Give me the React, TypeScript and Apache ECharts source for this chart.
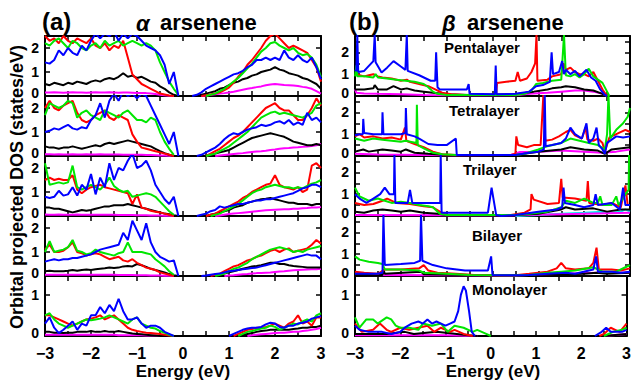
import { useEffect, useRef } from 'react';
import * as echarts from 'echarts';

type Pt = [number, number | null];

// Energy grids for the alpha-arsenene panels (eV)
const eValence = [-3.0,-2.9,-2.8,-2.7,-2.6,-2.5,-2.4,-2.3,-2.2,-2.1,-2.0,-1.9,-1.8,-1.7,-1.6,-1.5,-1.4,-1.3,-1.2,-1.1,-1.0,-0.9,-0.8,-0.7,-0.6,-0.5,-0.4,-0.3,-0.2,-0.1];
const eConduction = [0.2,0.3,0.4,0.5,0.6,0.7,0.8,0.9,1.0,1.1,1.2,1.3,1.4,1.5,1.6,1.7,1.8,1.9,2.0,2.1,2.2,2.3,2.4,2.5,2.6,2.7,2.8,2.9,3.0];

// ---- (a) alpha arsenene, pentalayer (top panel)
const a5RedV = [2.5,2.3,2.4,2.2,2.5,2.3,2.2,2.4,2.3,2.2,2.4,2.1,2.0,2.2,1.9,2.1,2.0,2.3,1.6,0.9,0.7,0.5,0.4,0.3,0.2,0.1,0.06,0.02,0,null];
const a5GreenV = [2.2,2.1,2.3,2.4,2.2,2.0,2.3,2.2,2.0,1.9,2.1,2.2,2.0,2.3,2.1,2.2,2.3,2.1,2.2,2.3,2.2,2.1,2.2,2.1,1.9,1.4,1.0,0.6,0.3,0.05];
const a5BlueV = [1.4,1.35,1.5,1.9,1.7,2.0,1.8,1.7,2.1,1.9,2.3,2.6,2.4,2.6,2.5,2.7,2.3,2.6,2.4,2.6,2.5,2.3,2.1,2.0,1.9,1.7,1.3,0.5,1.0,0];
const a5BlackV = [0.5,0.45,0.55,0.5,0.45,0.55,0.5,0.6,0.55,0.5,0.6,0.65,0.6,0.7,0.75,0.7,0.8,0.95,0.8,0.85,0.75,0.8,0.7,0.6,0.55,0.4,0.3,0.15,0.05,0];
const a5MagentaV = [0.15,0.15,0.16,0.15,0.14,0.15,0.16,0.15,0.15,0.14,0.15,0.16,0.15,0.15,0.16,0.15,0.14,0.15,0.15,0.14,0.13,0.12,0.12,0.1,0.08,0.05,0.03,0.01,0,null];
const a5RedC = [null,null,0,0.03,0.06,0.1,0.15,0.25,0.35,0.55,0.8,1.0,1.3,1.5,1.75,2.0,2.3,2.5,2.6,2.4,2.2,2.0,2.1,2.0,1.9,1.8,1.5,1.2,0.6];
const a5GreenC = [null,null,null,0,0.05,0.1,0.2,0.3,0.45,0.6,0.75,0.95,1.15,1.35,1.6,1.85,2.0,2.2,2.25,2.1,2.0,1.9,2.0,1.8,1.7,1.75,1.6,1.3,0.8];
const a5BlueC = [0,0.05,0.15,0.3,0.4,0.5,0.6,0.7,0.8,0.9,0.95,1.05,1.2,1.3,1.5,1.5,1.6,1.5,1.6,1.5,1.9,1.6,1.5,1.7,1.5,1.4,1.6,1.2,0.7];
const a5BlackC = [null,0,0.05,0.1,0.15,0.2,0.3,0.35,0.45,0.55,0.6,0.7,0.75,0.85,0.9,1.0,1.05,1.1,1.2,1.1,1.05,0.95,0.9,0.85,0.75,0.7,0.6,0.5,0.3];
const a5MagentaC = [null,null,0,0.02,0.05,0.07,0.1,0.12,0.15,0.18,0.22,0.26,0.3,0.33,0.37,0.4,0.45,0.48,0.5,0.48,0.46,0.45,0.44,0.42,0.38,0.35,0.3,0.2,0.1];

// ---- (a) tetralayer
const a4RedV = [2.0,2.3,2.0,1.9,2.1,2.2,2.3,1.8,1.5,1.4,1.5,1.7,1.8,1.9,1.6,1.5,1.7,1.6,1.5,0.9,0.6,0.35,0.3,0.25,0.2,0.15,0.1,0.05,0,null];
const a4GreenV = [1.7,2.2,2.1,2.0,2.1,2.3,2.2,1.6,1.8,1.9,1.7,1.6,1.5,1.9,1.8,1.7,1.6,1.8,1.9,1.7,1.5,1.5,1.4,1.6,1.5,1.0,0.6,0.3,0.05,null];
const a4BlueV = [1.0,1.05,1.15,1.1,1.2,1.3,1.15,1.1,1.2,1.15,1.5,1.7,2.2,1.6,2.3,2.6,2.3,2.7,2.5,2.6,2.4,2.6,2.5,2.1,1.7,1.3,0.9,0.5,1.0,0];
const a4BlackV = [0.4,0.35,0.35,0.3,0.35,0.35,0.4,0.35,0.3,0.35,0.4,0.45,0.4,0.5,0.55,0.5,0.55,0.6,0.65,0.6,0.55,0.5,0.45,0.4,0.3,0.2,0.12,0.05,0,null];
const a4MagentaV = [0.07,0.07,0.06,0.07,0.06,0.06,0.07,0.06,0.06,0.07,0.06,0.06,0.07,0.06,0.06,0.06,0.06,0.05,0.05,0.05,0.05,0.05,0.04,0.04,0.03,0.02,0.02,0.01,0,null];
const a4RedC = [null,null,null,0,0.1,0.2,0.3,0.45,0.6,0.75,0.85,1.0,1.2,1.4,1.6,1.8,2.0,2.1,2.2,2.0,1.9,1.9,1.7,1.5,1.5,1.7,2.0,2.4,2.1];
const a4GreenC = [null,null,null,0,0.05,0.1,0.2,0.3,0.4,0.55,0.7,0.85,1.0,1.2,1.4,1.6,1.7,1.8,1.85,1.75,1.8,1.75,1.7,1.65,1.6,1.7,1.8,2.1,2.2];
const a4BlueC = [null,0,0.05,0.15,0.25,0.35,0.5,0.7,0.85,0.95,0.9,1.0,1.1,1.15,1.2,1.3,1.25,1.3,1.4,1.45,1.35,1.5,1.3,1.4,1.3,1.8,1.5,1.6,1.4];
const a4BlackC = [null,null,null,0,0.05,0.1,0.15,0.2,0.25,0.35,0.45,0.55,0.65,0.75,0.8,0.85,0.9,0.95,0.9,0.85,0.8,0.7,0.6,0.55,0.5,0.45,0.45,0.5,0.45];
const a4MagentaC = [null,null,null,null,null,0,0.02,0.04,0.06,0.08,0.1,0.12,0.15,0.17,0.19,0.2,0.22,0.25,0.27,0.3,0.32,0.33,0.35,0.36,0.38,0.4,0.42,0.45,0.5];

// ---- (a) trilayer
const a3RedV = [1.5,1.6,1.5,1.55,1.5,1.5,1.7,1.1,0.95,1.1,1.2,1.25,1.3,1.2,1.15,1.1,1.05,1.0,0.95,0.5,0.9,0.35,0.3,0.22,0.18,0.15,0.1,0.05,0,null];
const a3GreenV = [2.2,1.3,1.35,1.4,1.35,1.4,2.1,1.2,1.1,1.2,1.3,1.2,1.1,1.3,1.6,1.25,1.1,1.0,1.05,0.8,0.85,0.9,0.95,0.9,0.8,0.6,0.4,0.2,0.05,null];
const a3BlueV = [0.8,0.75,0.8,1.05,0.85,0.9,1.2,0.85,1.3,1.1,1.75,0.9,1.6,1.2,2.2,1.5,2.0,1.9,2.3,2.6,2.0,2.1,2.3,1.9,1.3,1.0,0.7,0.5,0.8,0];
const a3BlackV = [0.35,0.35,0.3,0.3,0.25,0.2,0.15,0.2,0.25,0.22,0.25,0.3,0.35,0.4,0.4,0.45,0.45,0.45,0.5,0.45,0.4,0.35,0.3,0.25,0.2,0.15,0.1,0.07,0.03,0];
const a3MagentaV = [0.06,0.05,0.05,0.06,0.05,0.05,0.05,0.06,0.05,0.05,0.05,0.05,0.05,0.05,0.05,0.05,0.04,0.04,0.04,0.04,0.03,0.03,0.03,0.02,0.02,0.02,0.01,0.01,0,null];
const a3RedC = [null,null,null,0,0.05,0.1,0.2,0.3,0.4,0.5,0.6,0.75,0.85,1.0,1.1,1.2,1.3,1.35,1.7,1.3,1.2,1.15,1.1,1.2,1.0,1.1,2.1,2.2,2.0];
const a3GreenC = [null,null,null,null,0,0.05,0.1,0.2,0.3,0.4,0.5,0.65,0.8,0.95,1.05,1.1,1.2,1.25,1.3,1.25,1.2,1.2,1.15,1.2,1.15,1.25,1.35,1.4,1.5];
const a3BlueC = [null,0,0.05,0.1,0.2,0.25,0.4,0.35,0.4,0.45,0.5,0.5,0.55,0.6,0.65,0.65,0.7,0.7,0.75,0.8,0.85,0.9,0.95,1.05,1.15,1.2,1.3,1.3,1.2];
const a3BlackC = [null,null,null,0,0.05,0.1,0.15,0.2,0.25,0.35,0.4,0.45,0.55,0.6,0.65,0.7,0.72,0.75,0.7,0.65,0.6,0.55,0.55,0.5,0.5,0.5,0.45,0.5,0.5];
const a3MagentaC = [null,null,null,null,null,0,0.02,0.05,0.08,0.1,0.12,0.14,0.16,0.18,0.2,0.22,0.24,0.25,0.26,0.27,0.28,0.28,0.3,0.3,0.32,0.33,0.35,0.35,0.37];

// ---- (a) bilayer
const a2RedV = [1.1,1.3,1.0,1.0,1.05,1.2,1.4,1.0,0.95,0.85,0.9,0.95,0.9,0.8,0.7,0.75,0.8,0.65,0.6,0.7,0.55,0.45,0.35,0.3,0.25,0.15,0.1,0.05,0,null];
const a2GreenV = [1.0,1.45,1.0,1.05,1.1,1.2,1.5,1.05,1.0,0.9,0.95,1.1,1.0,0.95,0.9,0.85,0.95,1.0,1.4,1.0,1.0,1.0,0.95,0.9,0.7,0.55,0.4,0.2,0.05,null];
const a2BlueV = [0.6,0.65,0.7,0.65,0.7,0.7,0.75,0.75,0.8,0.85,0.9,1.0,1.1,1.15,1.2,1.25,1.3,1.8,1.5,2.3,1.9,1.5,2.2,1.4,1.0,0.8,0.7,0.6,0.65,0];
const a2BlackV = [0.2,0.22,0.2,0.2,0.2,0.22,0.25,0.22,0.25,0.27,0.25,0.28,0.3,0.32,0.35,0.33,0.35,0.4,0.42,0.4,0.5,0.45,0.38,0.3,0.25,0.2,0.15,0.08,0.03,0];
const a2MagentaV = [0.05,0.05,0.05,0.05,0.05,0.05,0.05,0.05,0.05,0.05,0.05,0.05,0.05,0.05,0.05,0.05,0.04,0.04,0.04,0.04,0.03,0.03,0.03,0.02,0.02,0.02,0.01,0.01,0,null];
const a2RedC = [null,null,null,null,0,0.05,0.1,0.2,0.3,0.4,0.45,0.55,0.65,0.7,0.8,0.85,0.95,1.05,1.1,1.0,1.1,1.15,1.0,1.05,1.1,1.15,1.3,1.5,1.35];
const a2GreenC = [null,null,null,null,null,0,0.05,0.1,0.2,0.3,0.35,0.45,0.55,0.7,0.8,0.9,1.0,1.1,1.15,1.2,1.15,1.1,1.0,1.05,1.0,1.1,1.15,1.2,1.25];
const a2BlueC = [null,null,0,0.02,0.05,0.08,0.1,0.15,0.2,0.22,0.25,0.28,0.3,0.33,0.35,0.4,0.45,0.5,0.55,0.6,0.65,0.7,0.75,0.8,0.85,0.9,0.85,0.85,0.7];
const a2BlackC = [null,null,null,0,0.02,0.05,0.08,0.1,0.15,0.2,0.25,0.3,0.35,0.4,0.42,0.45,0.5,0.55,0.55,0.5,0.5,0.45,0.42,0.4,0.38,0.35,0.35,0.35,0.35];
const a2MagentaC = [null,null,null,null,null,null,null,0,0.02,0.03,0.05,0.07,0.08,0.1,0.12,0.13,0.14,0.15,0.17,0.19,0.2,0.22,0.24,0.25,0.26,0.27,0.28,0.28,0.3];

// ---- (a) monolayer
const a1RedV = [0.5,0.5,0.45,0.4,0.35,0.3,0.25,0.3,0.35,0.4,0.42,0.45,0.5,0.4,0.45,0.5,0.4,0.3,0.2,0.15,0.12,0.1,0.08,0.07,0.06,0.05,0.03,0.01,0,null];
const a1GreenV = [0.5,0.55,0.4,0.3,0.25,0.2,0.25,0.3,0.35,0.4,0.38,0.4,0.42,0.45,0.5,0.45,0.4,0.35,0.3,0.4,0.45,0.3,0.25,0.2,0.18,0.12,0.08,0.03,0,null];
const a1BlueV = [0.3,0.45,0.2,0.07,0.15,0.25,0.35,0.15,0.3,0.25,0.5,0.5,0.7,0.55,0.75,0.6,0.9,0.6,0.4,0.4,0.45,0.3,0.2,0.25,0.25,0.2,0.1,0.05,0,null];
const a1BlackV = [0.1,0.1,0.08,0.08,0.07,0.08,0.08,0.1,0.1,0.1,0.12,0.1,0.1,0.12,0.1,0.1,0.12,0.1,0.08,0.06,0.05,0.04,0.03,0.02,0.01,0,null,null,null,null];
const a1MagentaV = [0.03,0.03,0.03,0.03,0.03,0.03,0.03,0.03,0.03,0.03,0.03,0.03,0.03,0.03,0.03,0.03,0.02,0.02,0.02,0.02,0.02,0.02,0.01,0.01,0.01,0,null,null,null,null];
const a1RedC = [null,null,null,null,null,null,null,null,null,0,0.05,0.1,0.15,0.17,0.2,0.2,0.22,0.25,0.3,0.25,0.2,0.3,0.35,0.5,0.3,0.35,0.25,0.45,0.45];
const a1GreenC = [null,null,null,null,null,null,null,null,null,null,0,0.05,0.1,0.12,0.15,0.18,0.2,0.25,0.22,0.15,0.2,0.25,0.3,0.28,0.35,0.4,0.35,0.5,0.55];
const a1BlueC = [null,null,null,null,null,null,null,null,0,0.05,0.1,0.15,0.18,0.2,0.2,0.22,0.28,0.32,0.3,0.22,0.2,0.25,0.25,0.3,0.32,0.35,0.42,0.45,0.48];
const a1BlackC = [null,null,null,null,null,null,null,null,null,null,0,0.03,0.05,0.07,0.1,0.12,0.13,0.15,0.15,0.15,0.15,0.15,0.17,0.18,0.2,0.2,0.22,0.22,0.25];
const a1MagentaC = [null,null,null,null,null,null,null,null,null,null,null,null,0,0.02,0.03,0.04,0.05,0.06,0.07,0.08,0.08,0.09,0.1,0.1,0.12,0.13,0.15,0.17,0.2];

// ---- (b) beta arsenene, [energy, DOS] points
const b5Red: Pt[] = [[-3,1.0],[-2.9,0.95],[-2.8,0.9],[-2.7,0.95],[-2.6,1.0],[-2.5,0.9],[-2.4,0.85],[-2.2,0.8],[-2.0,0.7],[-1.87,0.75],[-1.8,0.65],[-1.6,0.55],[-1.4,0.45],[-1.25,0.3],[-1.1,0.15],[-0.9,0.08],[-0.6,0.05],[0.0,0.05],[0.08,0.1],[0.1,0.6],[0.3,0.65],[0.5,0.7],[0.55,1.1],[0.6,0.7],[0.75,0.8],[0.85,1.1],[0.93,1.5],[0.96,2.8],[0.98,0.7],[1.2,0.75],[1.3,0.9],[1.5,1.0],[1.55,1.5],[1.6,1.2],[1.7,1.3],[1.8,1.1],[1.9,1.0],[2.0,1.0],[2.1,0.9],[2.2,1.1],[2.3,0.7],[2.4,0.3],[2.5,0]];
const b5Green: Pt[] = [[-3,0.9],[-2.97,1.4],[-2.95,0.9],[-2.8,0.9],[-2.6,0.85],[-2.55,1.0],[-2.5,0.85],[-2.3,0.8],[-2.1,0.75],[-1.9,0.7],[-1.7,0.65],[-1.5,0.55],[-1.4,0.4],[-1.3,0.2],[-1.2,0.1],[-1.0,0.05],[0.5,0.05],[0.7,0.1],[0.85,0.25],[0.95,0.55],[1.1,0.6],[1.3,0.7],[1.5,0.75],[1.56,2.8],[1.6,0.95],[1.7,0.9],[1.8,1.0],[1.9,0.85],[2.0,1.0],[2.1,1.25],[2.2,0.9],[2.3,0.75],[2.4,0.6],[2.5,0.2],[2.55,0]];
const b5Blue: Pt[] = [[-3,1.2],[-2.97,1.15],[-2.95,2.8],[-2.93,1.1],[-2.8,1.15],[-2.6,1.6],[-2.57,2.8],[-2.55,1.55],[-2.42,1.08],[-2.3,1.3],[-2.16,1.6],[-2.0,1.35],[-1.9,1.2],[-1.87,2.8],[-1.85,1.15],[-1.6,0.95],[-1.35,0.7],[-1.25,0.7],[-1.23,2.0],[-1.2,0.4],[-1.15,0.3],[-0.56,0.3],[-0.52,0.55],[-0.5,0.1],[0.05,0.08],[0.07,1.4],[0.09,0.08],[0.5,0.1],[0.8,0.2],[0.95,0.45],[1.1,0.5],[1.25,0.65],[1.29,2.0],[1.32,1.0],[1.45,1.1],[1.52,1.6],[1.56,1.0],[1.6,1.2],[1.7,1.0],[1.8,1.15],[1.9,0.9],[2.05,1.2],[2.15,0.85],[2.25,0.7],[2.35,0.3],[2.45,0.05],[2.5,0]];
const b5Black: Pt[] = [[-3,0.3],[-2.8,0.3],[-2.6,0.35],[-2.57,0.5],[-2.5,0.3],[-2.3,0.3],[-2.16,0.45],[-2.0,0.3],[-1.87,0.35],[-1.7,0.25],[-1.5,0.2],[-1.3,0.15],[-1.0,0.08],[-0.5,0.05],[0.5,0.08],[0.9,0.2],[1.2,0.3],[1.3,0.35],[1.5,0.4],[1.6,0.45],[1.8,0.4],[2.0,0.3],[2.2,0.25],[2.4,0.1],[2.5,0]];
const b5Magenta: Pt[] = [[-3,0.3],[-2.97,0.15],[-2.8,0.12],[-2.5,0.1],[-2.0,0.08],[-1.5,0.05],[-1.0,0.03],[0.5,0.03],[0.8,0.1],[1.2,0.15],[1.5,0.2],[1.8,0.25],[2.0,0.25],[2.2,0.2],[2.4,0.1],[2.5,0]];

const b4Red: Pt[] = [[-3,0.9],[-2.9,1.0],[-2.8,0.85],[-2.6,0.9],[-2.4,0.8],[-2.2,0.85],[-2.0,0.75],[-1.91,1.3],[-1.88,0.7],[-1.7,0.55],[-1.5,0.4],[-1.3,0.2],[-1.1,0.08],[-0.8,0.05],[0.4,0.05],[0.5,0.1],[0.52,0.9],[0.56,0.5],[0.75,0.4],[0.9,0.5],[1.05,0.5],[1.11,2.8],[1.15,0.7],[1.3,0.75],[1.45,0.9],[1.6,1.1],[1.7,1.2],[1.8,0.95],[1.95,0.8],[2.03,1.3],[2.07,0.75],[2.2,0.7],[2.3,0.8],[2.4,0.6],[2.45,0.2],[2.55,0.85],[2.7,1.0],[2.9,1.2],[3.0,1.1]];
const b4Green: Pt[] = [[-3,0.8],[-2.8,0.7],[-2.6,0.8],[-2.4,0.75],[-2.2,0.7],[-2.0,0.65],[-1.9,0.7],[-1.66,0.6],[-1.65,2.35],[-1.63,0.5],[-1.5,0.35],[-1.3,0.15],[-1.1,0.08],[-0.8,0.05],[0.5,0.05],[0.7,0.1],[1.0,0.3],[1.2,0.45],[1.5,0.6],[1.7,0.8],[1.9,0.7],[2.1,0.6],[2.3,0.5],[2.45,0.3],[2.5,1.0],[2.53,2.8],[2.57,0.8],[2.7,1.2],[2.85,1.5],[2.95,1.8],[3.0,2.2]];
const b4Blue: Pt[] = [[-3,0.95],[-2.9,1.0],[-2.83,1.0],[-2.82,1.7],[-2.8,1.05],[-2.6,1.0],[-2.41,1.0],[-2.4,2.0],[-2.38,1.0],[-2.2,1.0],[-2.0,1.0],[-1.9,1.05],[-1.89,2.2],[-1.87,1.0],[-1.7,0.9],[-1.6,0.8],[-1.4,0.55],[-1.2,0.5],[-1.0,0.5],[-0.8,0.8],[-0.78,0.05],[0.5,0.05],[0.8,0.15],[1.0,0.2],[1.12,0.3],[1.14,2.8],[1.16,0.45],[1.3,0.5],[1.5,0.6],[1.6,0.8],[1.7,1.3],[1.8,1.0],[1.95,0.8],[2.05,1.5],[2.1,0.6],[2.2,0.8],[2.27,1.3],[2.32,0.5],[2.4,0.3],[2.45,0.1],[2.5,0.6],[2.7,0.9],[2.85,0.85],[3.0,0.9]];
const b4Black: Pt[] = [[-3,0.2],[-2.82,0.3],[-2.7,0.2],[-2.4,0.3],[-2.2,0.25],[-2.0,0.2],[-1.89,0.3],[-1.7,0.15],[-1.4,0.1],[-1.0,0.05],[0.5,0.05],[1.0,0.2],[1.5,0.3],[1.7,0.4],[2.0,0.3],[2.3,0.25],[2.45,0.1],[2.6,0.3],[3.0,0.4]];
const b4Magenta: Pt[] = [[-3,0.1],[-2.5,0.07],[-1.5,0.05],[-0.8,0.03],[0.4,0.05],[0.6,0.18],[1.0,0.2],[1.5,0.25],[2.0,0.2],[2.4,0.15],[2.7,0.2],[3.0,0.3]];

const b3Red: Pt[] = [[-3,0.6],[-2.8,0.5],[-2.6,0.55],[-2.4,0.7],[-2.3,0.8],[-2.1,0.6],[-1.8,0.55],[-1.5,0.45],[-1.3,0.4],[-1.15,0.2],[-1.0,0.05],[0.4,0.05],[0.7,0.15],[0.83,0.3],[0.85,1.0],[0.9,0.75],[1.2,0.55],[1.45,0.6],[1.5,1.7],[1.53,0.85],[1.8,0.8],[2.05,0.7],[2.08,1.6],[2.11,0.6],[2.4,0.5],[2.6,0.6],[2.8,0.4],[2.9,1.4],[2.95,0.5],[3.0,0.5]];
const b3Green: Pt[] = [[-3,1.3],[-2.9,0.9],[-2.7,0.7],[-2.5,0.8],[-2.35,0.7],[-2.2,0.6],[-2.0,0.65],[-1.8,0.6],[-1.6,0.5],[-1.4,0.45],[-1.3,0.4],[-1.15,0.1],[-1.0,0.05],[0.5,0.05],[0.8,0.1],[1.2,0.2],[1.5,0.4],[1.6,0.7],[1.8,0.6],[2.0,0.8],[2.2,0.6],[2.3,0.6],[2.35,0.9],[2.4,0.5],[2.6,0.5],[2.7,0.9],[2.75,0.5],[2.85,0.8],[2.9,1.0],[2.97,1.2],[2.98,2.8],[3.0,2.8]];
const b3Blue: Pt[] = [[-3,1.0],[-2.9,0.8],[-2.75,0.6],[-2.6,0.8],[-2.45,1.0],[-2.35,1.3],[-2.25,1.0],[-2.15,1.0],[-2.14,2.8],[-2.12,0.6],[-1.85,0.6],[-1.8,1.2],[-1.75,0.6],[-1.14,0.6],[-1.13,2.8],[-1.11,0.15],[-0.1,0.15],[-0.02,1.3],[0.08,0.05],[0.2,0],[0.5,0.05],[1.0,0.2],[1.4,0.3],[1.52,0.4],[1.55,1.3],[1.58,0.6],[1.8,0.5],[2.0,0.4],[2.2,0.5],[2.25,1.0],[2.3,0.5],[2.6,0.6],[2.78,0.3],[2.85,1.3],[2.9,0.5],[3.0,0.5]];
const b3Black: Pt[] = [[-3,0.2],[-2.8,0.15],[-2.6,0.25],[-2.4,0.3],[-2.2,0.25],[-2.0,0.2],[-1.8,0.25],[-1.5,0.15],[-1.2,0.1],[-1.0,0.05],[0.5,0.05],[1.0,0.1],[1.5,0.3],[1.6,0.4],[1.8,0.3],[2.2,0.35],[2.5,0.2],[2.8,0.3],[3.0,0.3]];
const b3Magenta: Pt[] = [[-3,0.05],[-1.0,0.03],[0.5,0.03],[2.0,0.1],[3.0,0.15]];
const b3Cyan: Pt[] = [[0.5,0],[1.0,0.05],[1.5,0.1],[2.0,0.15],[2.4,0.2],[2.6,0.15],[2.8,0.2],[2.9,0.3],[3.0,0.2]];

const b2Red: Pt[] = [[-3,0.2],[-2.8,0.15],[-2.5,0.1],[-2.35,0.3],[-2.0,0.3],[-1.6,0.35],[-1.5,0.5],[-1.4,0.25],[-1.2,0.15],[-0.8,0.1],[-0.4,0.05],[0.5,0.03],[0.8,0.1],[1.2,0.2],[1.4,0.35],[1.5,0.6],[1.6,0.35],[1.8,0.3],[2.1,0.35],[2.2,0.6],[2.27,1.3],[2.32,0.3],[2.6,0.3],[2.8,0.25],[3.0,0.35]];
const b2Green: Pt[] = [[-3,0.9],[-2.9,0.75],[-2.7,0.65],[-2.5,0.6],[-2.4,0.55],[-2.35,0.3],[-2.0,0.3],[-1.6,0.25],[-1.5,0.15],[-1.0,0.1],[-0.5,0.05],[0.5,0.03],[0.8,0.05],[1.2,0.15],[1.5,0.2],[1.8,0.25],[2.2,0.4],[2.4,0.2],[2.7,0.2],[2.9,0.4],[3.0,0.5]];
const b2Blue: Pt[] = [[-3,0.1],[-2.5,0.1],[-2.4,0.15],[-2.38,2.8],[-2.35,0.5],[-2.0,0.55],[-1.7,0.6],[-1.58,0.7],[-1.56,2.8],[-1.53,0.7],[-1.3,0.5],[-1.0,0.35],[-0.6,0.25],[-0.1,0.25],[-0.03,0.9],[0.0,0.05],[0.5,0.03],[0.8,0.05],[1.2,0.1],[1.6,0.15],[1.8,0.1],[2.2,0.3],[2.26,0.9],[2.3,0.2],[2.6,0.2],[2.8,0.15],[3.0,0.2]];
const b2Black: Pt[] = [[-3,0.05],[-2.4,0.05],[-2.38,0.3],[-2.35,0.1],[-1.56,0.2],[-1.5,0.08],[-0.5,0.05],[0.5,0.03],[2.0,0.1],[2.27,0.15],[2.5,0.1],[3.0,0.15]];
const b2Magenta: Pt[] = [[-3,0.05],[-0.5,0.03],[0.5,0.02],[1.5,0.1],[2.3,0.15],[3.0,0.15]];

const b1Red: Pt[] = [[-3,0.3],[-2.85,0.1],[-2.6,0.15],[-2.45,0.3],[-2.3,0.15],[-2.2,0.1],[-2.0,0.2],[-1.8,0.15],[-1.6,0.2],[-1.4,0.25],[-1.25,0.1],[-1.1,0.2],[-0.9,0.1],[-0.8,0.15],[-0.6,0.05],[-0.4,0],[0,null],[2.4,0],[2.5,0.05],[2.65,0.2],[2.75,0.15],[2.85,0.1],[3.0,0.3]];
const b1Green: Pt[] = [[-3,0.45],[-2.9,0.2],[-2.75,0.4],[-2.6,0.4],[-2.5,0.3],[-2.3,0.45],[-2.2,0.4],[-2.1,0.25],[-2.0,0.2],[-1.8,0.2],[-1.6,0.15],[-1.5,0.3],[-1.3,0.25],[-1.1,0.3],[-0.95,0.1],[-0.8,0.25],[-0.6,0.2],[-0.4,0.1],[-0.3,0.15],[-0.1,0.05],[0,0],[0.1,null],[2.5,0],[2.7,0.1],[2.9,0.15],[3.0,0.2]];
const b1Blue: Pt[] = [[-3,0.25],[-2.9,0.15],[-2.7,0.1],[-2.4,0.1],[-2.2,0.05],[-2.0,0.1],[-1.9,0.2],[-1.75,0.3],[-1.6,0.35],[-1.5,0.3],[-1.4,0.4],[-1.3,0.3],[-1.2,0.35],[-1.1,0.3],[-1.0,0.25],[-0.9,0.3],[-0.8,0.35],[-0.72,0.6],[-0.66,1.0],[-0.6,1.2],[-0.55,1.1],[-0.48,0.6],[-0.42,0.1],[-0.35,0],[0,null],[2.3,0],[2.45,0.1],[2.55,0.2],[2.65,0.1],[2.8,0.1],[2.9,0.1],[3.0,0.15]];
const b1Black: Pt[] = [[-3,0.05],[-2.3,0.05],[-1.9,0.1],[-1.7,0.05],[-1.2,0.1],[-0.5,0.02],[-0.3,0],[0,null],[2.5,0],[3.0,0.05]];
const b1Magenta: Pt[] = [[-3,0.02],[-1,0.02],[-0.3,0],[0,null],[2.5,0],[3.0,0.05]];

const COLORS: Record<string, string> = {
  black: '#000000', magenta: '#ff00ff', red: '#ff0000', green: '#00e600', blue: '#0000ff', cyan: '#00f0f0',
};
const FONT = 'Liberation Sans, Arial, sans-serif';

function zipPts(es: number[], ys: (number | null)[]): Pt[] {
  return es.map((e, i) => [e, ys[i] ?? null] as Pt);
}
function leftCurve(v: (number | null)[], c: (number | null)[]): Pt[] {
  return [...zipPts(eValence, v), [0.05, null], ...zipPts(eConduction, c)];
}
// split a curve at its empty points into continuous runs
function runs(pts: Pt[]): [number, number][][] {
  const out: [number, number][][] = [];
  let cur: [number, number][] = [];
  pts.forEach(([x, y]) => {
    if (y === null || y === undefined) {
      if (cur.length) out.push(cur);
      cur = [];
    } else cur.push([x, y]);
  });
  if (cur.length) out.push(cur);
  return out;
}

type Panel = { col: 0 | 1; row: number; max: number; yInt: number; curves: [string, Pt[]][]; label?: string; labelX?: number; labelY?: number };

const panels: Panel[] = [
  { col: 0, row: 0, max: 2.5, yInt: 1, curves: [['magenta', leftCurve(a5MagentaV, a5MagentaC)], ['black', leftCurve(a5BlackV, a5BlackC)], ['red', leftCurve(a5RedV, a5RedC)], ['green', leftCurve(a5GreenV, a5GreenC)], ['blue', leftCurve(a5BlueV, a5BlueC)]] },
  { col: 0, row: 1, max: 2.5, yInt: 1, curves: [['magenta', leftCurve(a4MagentaV, a4MagentaC)], ['black', leftCurve(a4BlackV, a4BlackC)], ['red', leftCurve(a4RedV, a4RedC)], ['green', leftCurve(a4GreenV, a4GreenC)], ['blue', leftCurve(a4BlueV, a4BlueC)]] },
  { col: 0, row: 2, max: 2.5, yInt: 1, curves: [['magenta', leftCurve(a3MagentaV, a3MagentaC)], ['black', leftCurve(a3BlackV, a3BlackC)], ['red', leftCurve(a3RedV, a3RedC)], ['green', leftCurve(a3GreenV, a3GreenC)], ['blue', leftCurve(a3BlueV, a3BlueC)]] },
  { col: 0, row: 3, max: 2.5, yInt: 1, curves: [['magenta', leftCurve(a2MagentaV, a2MagentaC)], ['black', leftCurve(a2BlackV, a2BlackC)], ['red', leftCurve(a2RedV, a2RedC)], ['green', leftCurve(a2GreenV, a2GreenC)], ['blue', leftCurve(a2BlueV, a2BlueC)]] },
  { col: 0, row: 4, max: 1.45, yInt: 1, curves: [['magenta', leftCurve(a1MagentaV, a1MagentaC)], ['black', leftCurve(a1BlackV, a1BlackC)], ['red', leftCurve(a1RedV, a1RedC)], ['green', leftCurve(a1GreenV, a1GreenC)], ['blue', leftCurve(a1BlueV, a1BlueC)]] },
  { col: 1, row: 0, max: 2.75, yInt: 0.5, label: 'Pentalayer', labelX: 444, labelY: 47, curves: [['magenta', b5Magenta], ['black', b5Black], ['red', b5Red], ['green', b5Green], ['blue', b5Blue]] },
  { col: 1, row: 1, max: 2.75, yInt: 0.5, label: 'Tetralayer', labelX: 449, labelY: 110, curves: [['magenta', b4Magenta], ['black', b4Black], ['red', b4Red], ['green', b4Green], ['blue', b4Blue]] },
  { col: 1, row: 2, max: 2.75, yInt: 0.5, label: 'Trilayer', labelX: 463, labelY: 169, curves: [['cyan', b3Cyan], ['magenta', b3Magenta], ['black', b3Black], ['red', b3Red], ['green', b3Green], ['blue', b3Blue]] },
  { col: 1, row: 3, max: 2.75, yInt: 0.5, label: 'Bilayer', labelX: 472, labelY: 235, curves: [['magenta', b2Magenta], ['black', b2Black], ['red', b2Red], ['green', b2Green], ['blue', b2Blue]] },
  { col: 1, row: 4, max: 1.45, yInt: 1, label: 'Monolayer', labelX: 472, labelY: 289, curves: [['magenta', b1Magenta], ['black', b1Black], ['red', b1Red], ['green', b1Green], ['blue', b1Blue]] },
];

const COL_LEFT = [45, 355];
const COL_WIDTH = [276, 275];
const ROW_TOP = [36, 96, 156, 216, 276];
const ROW_H = 60;

const isInt = (v: number) => Math.abs(v - Math.round(v)) < 1e-6;

function buildOption() {
  const grid: any[] = [];
  const xAxis: any[] = [];
  const yAxis: any[] = [];
  const series: any[] = [];
  const tickStyle = { show: true, inside: true, length: 5, lineStyle: { color: '#000', width: 1.5 } };
  const frame = { show: true, onZero: false, lineStyle: { color: '#000', width: 2 } };
  const labelFont = { fontSize: 14, fontWeight: 'bold', fontFamily: FONT, color: '#000' };
  panels.forEach((p, i) => {
    grid.push({ left: COL_LEFT[p.col], top: ROW_TOP[p.row], width: COL_WIDTH[p.col], height: ROW_H, show: false });
    const bottom = p.row === 4;
    const xBase = { type: 'value', gridIndex: i, min: -3, max: 3, interval: 0.5, axisLine: frame, splitLine: { show: false }, axisTick: tickStyle };
    xAxis.push({ ...xBase, position: 'bottom', axisLabel: { show: bottom, margin: 9, color: '#000', fontSize: 16, fontWeight: 'bold', fontFamily: FONT, formatter: (v: number) => (isInt(v) ? (v < 0 ? '\u2212' + Math.round(-v) : String(Math.round(v))) : '') } });
    xAxis.push({ ...xBase, position: 'top', axisLabel: { show: false } });
    const yBase = { type: 'value', gridIndex: i, min: 0, max: p.max, interval: p.yInt, axisLine: frame, splitLine: { show: false }, axisTick: tickStyle };
    yAxis.push({
      ...yBase, position: 'left',
      axisLabel: {
        show: true, margin: 6, ...labelFont,
        formatter: (v: number) => (Math.abs(v) < 1e-6 ? '{z|0}' : isInt(v) && v < p.max - 0.01 ? '{n|' + Math.round(v) + '}' : ''),
        rich: { z: { ...labelFont, padding: [0, 0, 6, 0] }, n: { ...labelFont } },
      },
    });
    yAxis.push({ ...yBase, position: 'right', axisLabel: { show: false } });
    p.curves.forEach(([c, data]) => {
      runs(data).forEach((seg) => {
        series.push({ type: 'line', xAxisIndex: 2 * i, yAxisIndex: 2 * i, data: seg, showSymbol: false, symbol: 'none', clip: true, silent: true, lineStyle: { color: COLORS[c], width: 2 }, itemStyle: { color: COLORS[c] } });
      });
    });
  });

  const bold = (s: number) => ({ fontSize: s, fontWeight: 'bold', fontFamily: FONT, fill: '#000' });
  const graphic: any[] = [
    { type: 'text', x: 42, y: 21, style: { text: '(a)', ...bold(24), verticalAlign: 'middle' } },
    { type: 'text', x: 136, y: 23, style: { text: '\u03b1', ...bold(22), fontStyle: 'italic', verticalAlign: 'middle' } },
    { type: 'text', x: 160, y: 22, style: { text: 'arsenene', ...bold(22), verticalAlign: 'middle' } },
    { type: 'text', x: 349, y: 21, style: { text: '(b)', ...bold(24), verticalAlign: 'middle' } },
    { type: 'text', x: 442, y: 23, style: { text: '\u03b2', ...bold(22), fontStyle: 'italic', verticalAlign: 'middle' } },
    { type: 'text', x: 467, y: 22, style: { text: 'arsenene', ...bold(22), verticalAlign: 'middle' } },
    { type: 'text', x: 183, y: 371, style: { text: 'Energy (eV)', ...bold(17), align: 'center', verticalAlign: 'middle' } },
    { type: 'text', x: 493, y: 371, style: { text: 'Energy (eV)', ...bold(17), align: 'center', verticalAlign: 'middle' } },
    { type: 'text', x: 17, y: 187, rotation: Math.PI / 2, style: { text: 'Orbital projected DOS (states/eV)', ...bold(18), align: 'center', verticalAlign: 'middle' } },
  ];
  panels.forEach((p) => {
    if (p.label) graphic.push({ type: 'text', x: p.labelX, y: p.labelY, z: 10, style: { text: p.label, ...bold(15), verticalAlign: 'middle' } });
  });

  return { animation: false, backgroundColor: '#ffffff', grid, xAxis, yAxis, series, graphic };
}

export default function App() {
  const ref = useRef<HTMLDivElement>(null);
  useEffect(() => {
    if (!ref.current) return;
    const chart = echarts.init(ref.current, undefined, { renderer: 'svg' });
    chart.setOption(buildOption() as any);
    return () => chart.dispose();
  }, []);
  return <div ref={ref} style={{ position: 'fixed', left: 0, top: 0, width: 634, height: 381, background: '#fff' }} />;
}
